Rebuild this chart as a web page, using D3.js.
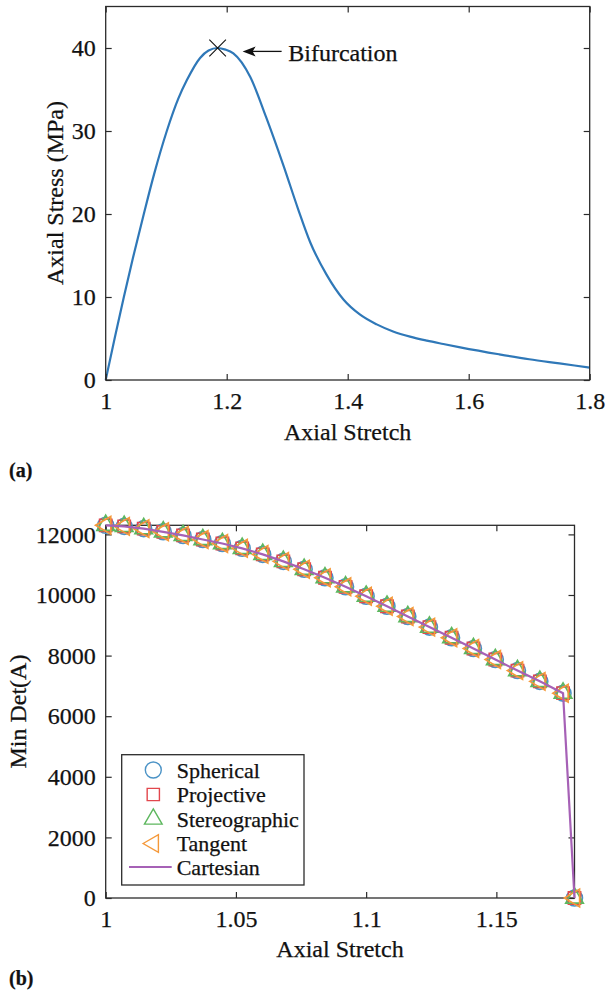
<!DOCTYPE html>
<html>
<head>
<meta charset="utf-8">
<script src="https://cdn.jsdelivr.net/npm/d3@7"></script>
<style>
  body { margin: 0; background: #fff; }
  svg { display: block; }
  text { font-family: "Liberation Serif", "Times New Roman", serif; fill: #111; stroke: #111; stroke-width: 0.25px; }
</style>
</head>
<body>
<svg id="fig" width="608" height="997"></svg>
<script>
// ---- Panel (a): axial stress against axial stretch ----
const stretchA = [1.000, 1.015, 1.030, 1.045, 1.063, 1.080, 1.101, 1.120, 1.134, 1.156, 1.170, 1.185,
                  1.198, 1.211, 1.239, 1.265, 1.294, 1.318, 1.338, 1.365, 1.393, 1.420, 1.448, 1.475,
                  1.503, 1.531, 1.558, 1.586, 1.650, 1.700, 1.750, 1.800];
const stressA  = [0.0, 5.1, 10.0, 14.7, 20.0, 24.8, 30.0, 33.9, 36.1, 38.8, 39.7, 40.0,
                  39.8, 39.35, 36.5, 31.7, 25.8, 20.6, 16.6, 12.7, 9.7, 7.9, 6.7, 5.85,
                  5.22, 4.74, 4.34, 3.94, 3.10, 2.50, 2.00, 1.50];
const bifurcation = { stretch: 1.185, stress: 40.0, label: "Bifurcation" };
const ticksAX = [1, 1.2, 1.4, 1.6, 1.8];
const ticksAY = [0, 10, 20, 30, 40];

// ---- Panel (b): minimum determinant for each parameterisation ----
const stretchB = [1.0000, 1.0071, 1.0146, 1.0221, 1.0297, 1.0373, 1.0448, 1.0524, 1.0603, 1.0682,
                  1.0762, 1.0842, 1.0921, 1.1000, 1.1080, 1.1160, 1.1243, 1.1328, 1.1412, 1.1496,
                  1.1581, 1.1667, 1.1756, 1.1800];
const minDet   = [12300, 12265, 12190, 12085, 11965, 11830, 11700, 11540, 11340, 11110,
                  10850, 10570, 10270, 9960, 9630, 9290, 8940, 8590, 8235, 7870,
                  7505, 7150, 6760, 0];
const methods = ["Spherical", "Projective", "Stereographic", "Tangent", "Cartesian"];
const methodColors = ["#4b93c6", "#e2474d", "#5db75e", "#f5993a", "#a661b6"];
const ticksBX = [1, 1.05, 1.1, 1.15];
const ticksBY = [0, 2000, 4000, 6000, 8000, 10000, 12000];

const svg = d3.select("#fig");
const axisColor = "#2b2b2b";
const tickFont = 24;

function drawFrame(g, x, y, xTicks, yTicks) {
  const [x0, x1] = x.range();
  const [y0, y1] = y.range();
  const styleAxis = sel => {
    sel.select(".domain").remove();
    sel.selectAll(".tick line").attr("stroke", axisColor).attr("stroke-width", 1.2);
    sel.selectAll(".tick text").attr("font-size", tickFont).attr("fill", "#111")
       .attr("font-family", '"Liberation Serif","Times New Roman",serif');
  };
  g.append("g").attr("transform", `translate(0,${y0})`)
    .call(d3.axisBottom(x).tickValues(xTicks).tickFormat(d3.format("")).tickSizeInner(-6).tickSizeOuter(0).tickPadding(12))
    .call(styleAxis);
  g.append("g").attr("transform", `translate(0,${y1})`)
    .call(d3.axisTop(x).tickValues(xTicks).tickFormat("").tickSizeInner(-6).tickSizeOuter(0))
    .call(styleAxis);
  g.append("g").attr("transform", `translate(${x0},0)`)
    .call(d3.axisLeft(y).tickValues(yTicks).tickFormat(d3.format("d")).tickSizeInner(-6).tickSizeOuter(0).tickPadding(10))
    .call(styleAxis);
  g.append("g").attr("transform", `translate(${x1},0)`)
    .call(d3.axisRight(y).tickValues(yTicks).tickFormat("").tickSizeInner(-6).tickSizeOuter(0))
    .call(styleAxis);
  g.append("rect")
    .attr("x", x0).attr("y", y1).attr("width", x1 - x0).attr("height", y0 - y1)
    .attr("fill", "none").attr("stroke", axisColor).attr("stroke-width", 1.3);
}

// ---------------- Panel (a) ----------------
{
  const x = d3.scaleLinear().domain([1, 1.8]).range([105.7, 589.7]);
  const y = d3.scaleLinear().domain([0, 45]).range([380, 6.5]);
  const g = svg.append("g");

  const line = d3.line()
    .x((d, i) => x(stretchA[i]))
    .y((d, i) => y(stressA[i]))
    .curve(d3.curveMonotoneX);
  g.append("path").datum(stressA)
    .attr("d", line).attr("fill", "none")
    .attr("stroke", "#2f78b8").attr("stroke-width", 2.2);

  drawFrame(g, x, y, ticksAX, ticksAY);

  // bifurcation marker and annotation
  const bx = x(bifurcation.stretch), by = y(bifurcation.stress);
  const s = 8.3;
  g.append("path")
    .attr("d", `M${bx - s},${by - s}L${bx + s},${by + s}M${bx - s},${by + s}L${bx + s},${by - s}`)
    .attr("stroke", "#111").attr("stroke-width", 1.1).attr("fill", "none");
  const ay = by + 3.4, tipX = bx + 25, tailX = bx + 64;
  g.append("line").attr("x1", tipX + 8).attr("x2", tailX).attr("y1", ay).attr("y2", ay)
    .attr("stroke", "#111").attr("stroke-width", 1.3);
  g.append("path")
    .attr("d", `M${tipX},${ay}L${tipX + 13},${ay - 5}L${tipX + 10},${ay}L${tipX + 13},${ay + 5}Z`)
    .attr("fill", "#111");
  g.append("text").attr("x", tailX + 6.6).attr("y", ay + 10)
    .attr("font-size", 24).text(bifurcation.label);

  g.append("text").attr("x", 347.7).attr("y", 440).attr("text-anchor", "middle")
    .attr("font-size", 24).text("Axial Stretch");
  g.append("text").attr("transform", "translate(63,193) rotate(-90)")
    .attr("text-anchor", "middle").attr("font-size", 24).text("Axial Stress (MPa)");
  g.append("text").attr("x", 9).attr("y", 477)
    .attr("font-family", '"DejaVu Serif",serif').attr("font-weight", "bold")
    .attr("font-size", 20).text("(a)");
}

// ---------------- Panel (b) ----------------
{
  const x = d3.scaleLinear().domain([1, 1.18]).range([105.7, 574.5]);
  const y = d3.scaleLinear().domain([0, 12300]).range([898, 525.3]);
  const g = svg.append("g");

  drawFrame(g, x, y, ticksBX, ticksBY);

  const symbols = [
    d3.symbol().type(d3.symbolCircle).size(200),
    d3.symbol().type(d3.symbolSquare).size(150),
    d3.symbol().type(d3.symbolTriangle).size(135),
    d3.symbol().type(d3.symbolTriangle).size(135)
  ];
  const rotations = [0, 0, 0, -90];

  const markerLayer = g.append("g");
  for (let m = 0; m < 4; m++) {
    markerLayer.append("g").selectAll("path")
      .data(minDet)
      .join("path")
      .attr("d", symbols[m]())
      .attr("transform", (d, i) => `translate(${x(stretchB[i])},${y(d)}) rotate(${rotations[m]})`)
      .attr("fill", "none")
      .attr("stroke", methodColors[m])
      .attr("stroke-width", 1.6);
  }

  const line = d3.line()
    .x((d, i) => x(stretchB[i]))
    .y(d => y(d));
  g.append("path").datum(minDet)
    .attr("d", line).attr("fill", "none")
    .attr("stroke", methodColors[4]).attr("stroke-width", 2.2);

  // legend
  const lg = g.append("g");
  lg.append("rect").attr("x", 121.7).attr("y", 754.7).attr("width", 182.3).attr("height", 130.3)
    .attr("fill", "#fff").attr("stroke", axisColor).attr("stroke-width", 1.3);
  const rowY = [770, 794.5, 819, 843.5, 867];
  methods.forEach((name, k) => {
    const cy = rowY[k];
    if (k < 4) {
      lg.append("path").attr("d", symbols[k]())
        .attr("transform", `translate(153.3,${cy}) rotate(${rotations[k]})`)
        .attr("fill", "none").attr("stroke", methodColors[k]).attr("stroke-width", 1.4);
    } else {
      lg.append("line").attr("x1", 129).attr("x2", 171.7).attr("y1", cy).attr("y2", cy)
        .attr("stroke", methodColors[k]).attr("stroke-width", 2.2);
    }
    lg.append("text").attr("x", 176.7).attr("y", cy + 7.5)
      .attr("font-size", 22).text(name);
  });

  g.append("text").attr("x", 340).attr("y", 957).attr("text-anchor", "middle")
    .attr("font-size", 24).text("Axial Stretch");
  g.append("text").attr("transform", "translate(26,711.6) rotate(-90)")
    .attr("text-anchor", "middle").attr("font-size", 24).text("Min Det(A)");
  g.append("text").attr("x", 9).attr("y", 985)
    .attr("font-family", '"DejaVu Serif",serif').attr("font-weight", "bold")
    .attr("font-size", 20).text("(b)");
}
</script>
</body>
</html>
